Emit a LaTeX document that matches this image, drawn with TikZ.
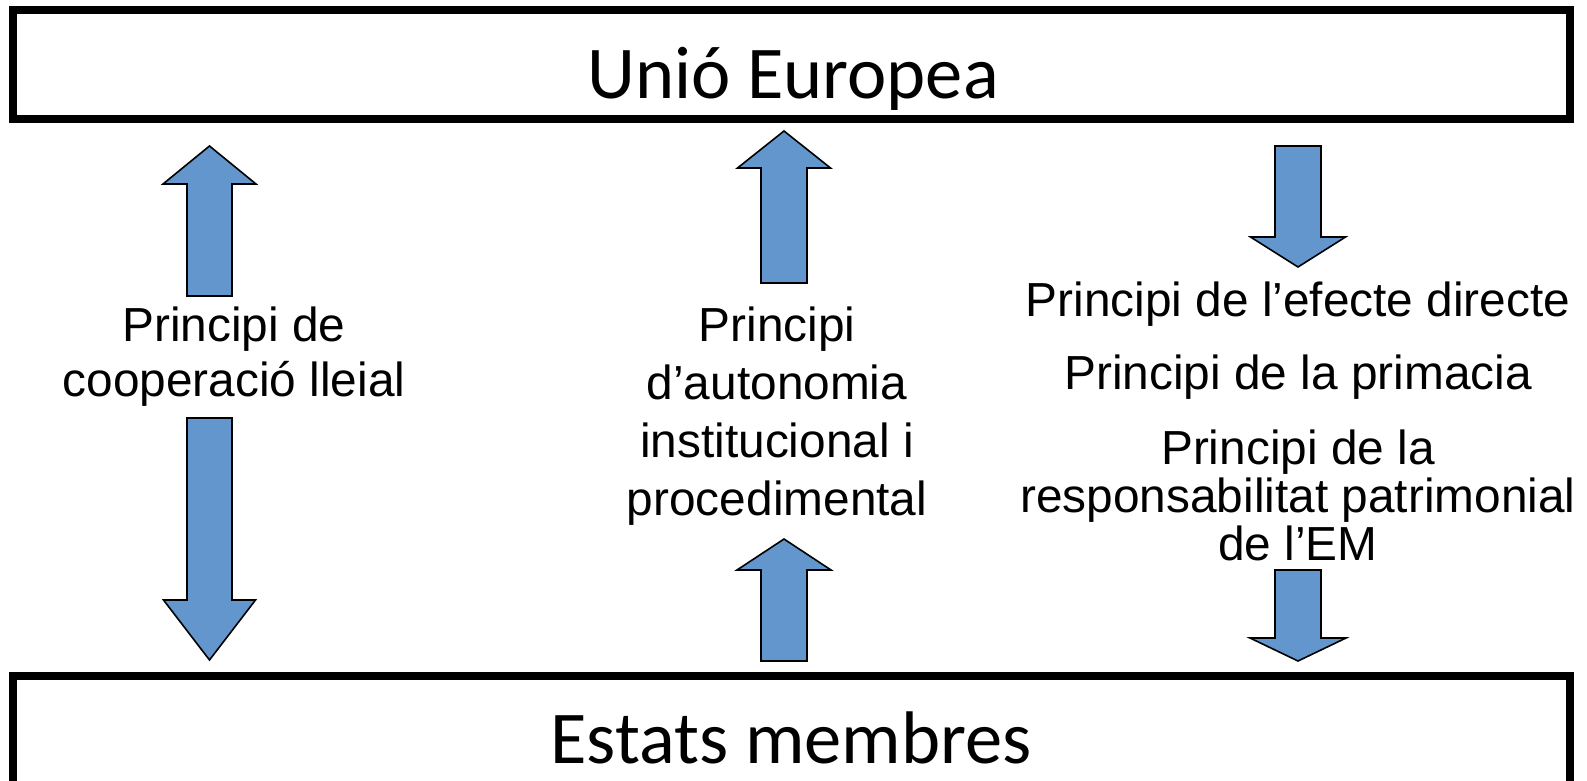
\documentclass[tikz,border=0pt]{standalone}
\usepackage{fontspec}
\setmainfont{Liberation Sans}
\newfontfamily\calfont{Carlito}
\definecolor{arrowblue}{RGB}{98,150,204}
\tikzset{
  frame/.style={draw=black, line width=8pt, fill=white},
  blockarrow/.style={draw=black, line width=1.6pt, fill=arrowblue, line join=miter},
  boxtext/.style={font=\calfont\fontsize{74.5}{80}\selectfont, inner sep=0pt},
  label/.style={font=\fontsize{47.8}{55}\selectfont, align=center, inner sep=0pt},
}
% up arrow: cx, tip y, head base y, bottom y, head half width, shaft half width
\newcommand\myuparrow[6]{%
  \draw[blockarrow] (#1,#2) -- (#1+#5,#3) -- (#1+#6,#3) -- (#1+#6,#4) -- (#1-#6,#4) -- (#1-#6,#3) -- (#1-#5,#3) -- cycle;}
% down arrow: cx, top y, head base y, tip y, head half width, shaft half width
\newcommand\mydownarrow[6]{%
  \draw[blockarrow] (#1-#6,#2) -- (#1+#6,#2) -- (#1+#6,#3) -- (#1+#5,#3) -- (#1,#4) -- (#1-#5,#3) -- (#1-#6,#3) -- cycle;}
\begin{document}
\begin{tikzpicture}[x=1pt,y=-1pt]
\useasboundingbox (0,0) rectangle (1587,781);
\clip (0,0) rectangle (1587,781);
\fill[white] (0,0) rectangle (1587,781);
% boxes
\draw[frame] (13,10) rectangle (1570,119);
\draw[frame] (13,675.5) rectangle (1570,800);
\node[boxtext, anchor=base] (ue) at (793,99) {Unió Europea};
\node[boxtext, anchor=base] (em) at (791,763) {Estats membres};
% arrows
\myuparrow{209.5}{146}{184}{296}{46.5}{22.5}
\mydownarrow{209.5}{418}{600}{660}{46}{22.5}
\myuparrow{784}{131}{168}{283}{46.5}{23}
\myuparrow{784}{539}{570}{661}{47}{23}
\mydownarrow{1298}{146}{237}{267}{47.5}{23}
\mydownarrow{1298}{570}{638}{661}{48}{23}
% labels
\node[label] (coop) at (234,357) {Principi de\\cooperació lleial};
\node[label, font=\fontsize{47.8}{58}\selectfont] (auto) at (777,416) {Principi\\d’autonomia\\institucional i\\procedimental};
\node[label] (efecte) at (1298,304) {Principi de l’efecte directe};
\node[label] (prim) at (1298,377) {Principi de la primacia};
\node[label, font=\fontsize{47.8}{48}\selectfont] (resp) at (1298,495) {Principi de la\\responsabilitat patrimonial\\de l’EM};
\end{tikzpicture}
\end{document}
